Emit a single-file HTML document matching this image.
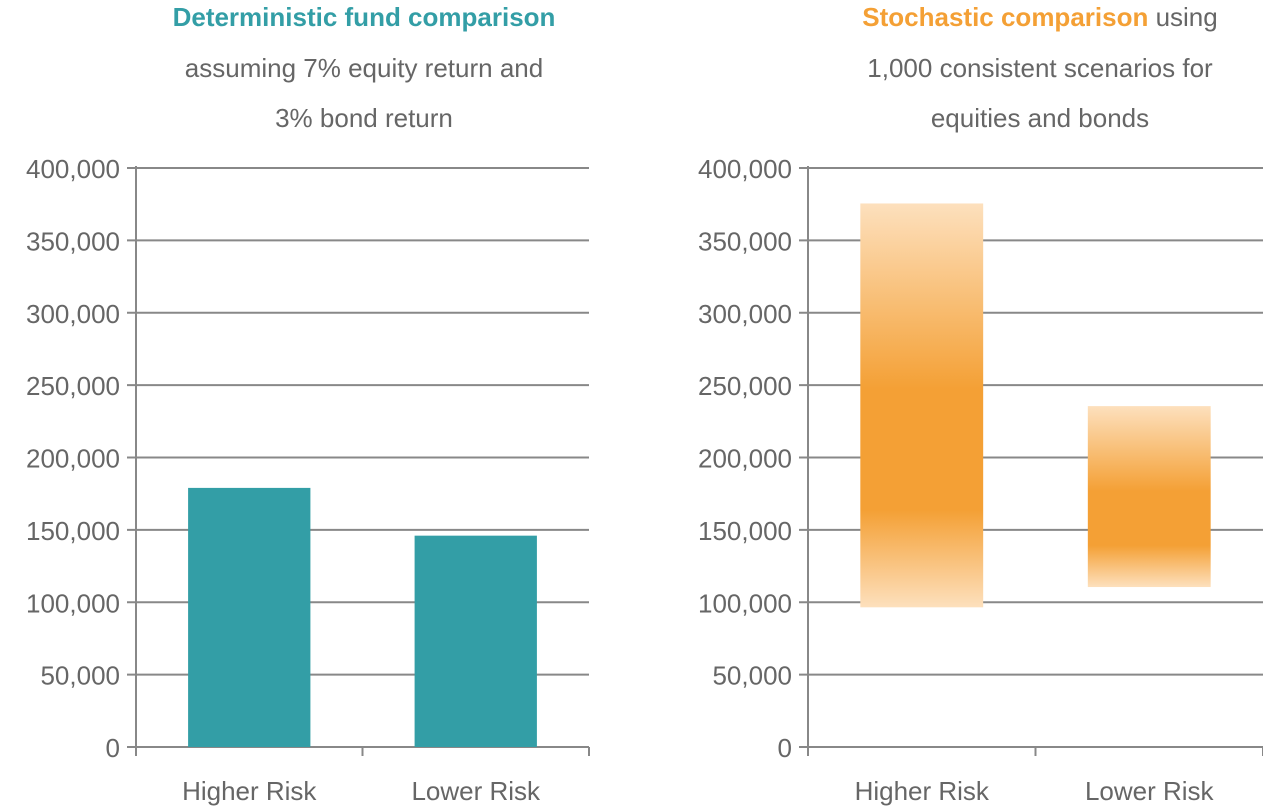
<!DOCTYPE html>
<html><head><meta charset="utf-8"><style>
html,body{margin:0;padding:0;background:#fff;width:1263px;height:809px;overflow:hidden}
svg{display:block;font-family:"Liberation Sans",sans-serif}
</style></head><body>
<svg id="c" width="1263" height="809">
<defs>
<linearGradient id="gH" x1="0" y1="0" x2="0" y2="1">
<stop offset="0" stop-color="#fde0bd"/><stop offset="0.46" stop-color="#f4a035"/><stop offset="0.76" stop-color="#f4a035"/><stop offset="1" stop-color="#fde0bd"/>
</linearGradient>
<linearGradient id="gL" x1="0" y1="0" x2="0" y2="1">
<stop offset="0" stop-color="#fde0bd"/><stop offset="0.47" stop-color="#f4a035"/><stop offset="0.77" stop-color="#f4a035"/><stop offset="1" stop-color="#fde0bd"/>
</linearGradient>
</defs>
<text x="364" y="26" text-anchor="middle" font-size="26" font-weight="bold" fill="#339ea6">Deterministic fund comparison</text>
<text x="364" y="77" text-anchor="middle" font-size="26" fill="#666">assuming 7% equity return and</text>
<text x="364" y="127" text-anchor="middle" font-size="26" fill="#666">3% bond return</text>
<text x="1040" y="26" text-anchor="middle" font-size="26" fill="#666"><tspan font-weight="bold" fill="#f4a035">Stochastic comparison</tspan> using</text>
<text x="1040" y="77" text-anchor="middle" font-size="26" fill="#666">1,000 consistent scenarios for</text>
<text x="1040" y="127" text-anchor="middle" font-size="26" fill="#666">equities and bonds</text>
</svg>
<script>
const categories = ["Higher Risk", "Lower Risk"];
const deterministicValues = [179000, 146000];
const stochasticLow = [96500, 110500];
const stochasticHigh = [375500, 235500];
const yTicks = [0, 50000, 100000, 150000, 200000, 250000, 300000, 350000, 400000];
const yTickLabels = ["0", "50,000", "100,000", "150,000", "200,000", "250,000", "300,000", "350,000", "400,000"];

const svg = document.getElementById('c');
const NS = 'http://www.w3.org/2000/svg';
function mk(tag, attrs) { const e = document.createElementNS(NS, tag); for (const k in attrs) e.setAttribute(k, attrs[k]); svg.appendChild(e); return e; }

function drawAxes(x0, x1, prefix) {
  const y = v => 747 - v / 400000 * 579;
  yTicks.forEach((t, i) => {
    const l = mk('line', {x1: x0 - 9, x2: x1, y1: y(t), y2: y(t), stroke: '#888', 'stroke-width': 2});
    
    
    const tx = mk('text', {x: x0 - 16, y: y(t) + 10, 'text-anchor': 'end', 'font-size': 26, fill: '#666'});
    tx.textContent = yTickLabels[i];
    
    
  });
  const ax = mk('line', {x1: x0, x2: x0, y1: 166, y2: 756, stroke: '#888', 'stroke-width': 2});
  
  
  const bw = (x1 - x0) / categories.length;
  for (let i = 0; i <= categories.length; i++) {
    const tk = mk('line', {x1: x0 + i * bw, x2: x0 + i * bw, y1: 747, y2: 756, stroke: '#888', 'stroke-width': 2});
    
    
  }
  categories.forEach((c, i) => {
    const tx = mk('text', {x: x0 + (i + 0.5) * bw, y: 800, 'text-anchor': 'middle', 'font-size': 26, fill: '#666'});
    tx.textContent = c;
    
    
  });
  return {y, bw};
}

// Left chart
let L = drawAxes(136, 589, 'left');
categories.forEach((c, i) => {
  const w = L.bw * 0.54, cx = 136 + (i + 0.5) * L.bw;
  const r = mk('rect', {x: cx - w / 2, y: L.y(deterministicValues[i]), width: w, height: L.y(0) - L.y(deterministicValues[i]), fill: '#339ea6'});
  
  
});

// Right chart
let R = drawAxes(808, 1263, 'right');
categories.forEach((c, i) => {
  const w = R.bw * 0.54, cx = 808 + (i + 0.5) * R.bw;
  const r = mk('rect', {x: cx - w / 2, y: R.y(stochasticHigh[i]), width: w, height: R.y(stochasticLow[i]) - R.y(stochasticHigh[i]), fill: i === 0 ? 'url(#gH)' : 'url(#gL)'});
  
  
});
</script>
</body></html>
